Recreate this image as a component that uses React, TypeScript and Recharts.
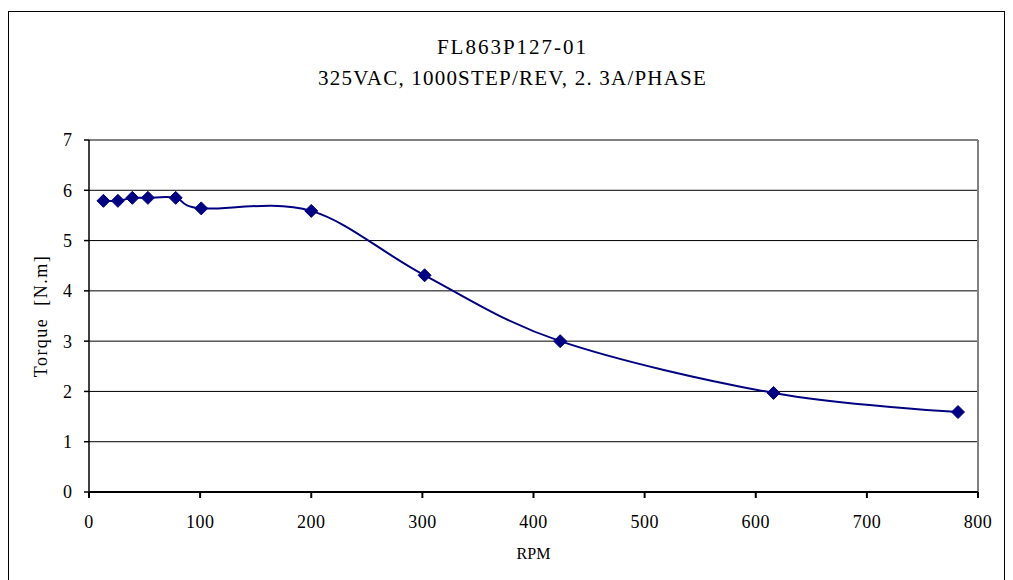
import React from 'react';
import { LineChart, Line, XAxis, YAxis, CartesianGrid, ReferenceLine } from 'recharts';

// speed points (RPM) and torque readings (N.m)
const rpm = [13, 26, 39, 53, 78, 101, 200, 302, 424, 616, 782];
const torque = [5.79, 5.79, 5.85, 5.85, 5.85, 5.64, 5.59, 4.31, 3.0, 1.97, 1.59];

const xTicks = [0, 100, 200, 300, 400, 500, 600, 700, 800];
const yTicks = [0, 1, 2, 3, 4, 5, 6, 7];

const titleLines = ['FL863P127-01', '325VAC, 1000STEP/REV, 2. 3A/PHASE'];

const data = rpm.map((r, i) => ({ rpm: r, torque: torque[i] }));

const font = "'Liberation Serif', 'DejaVu Serif', serif";
const navy = '#000080';

// excel-like smoothed line (cardinal spline, tension 0)
function smoothCurve(context: any) {
  const k = 1 / 6;
  let x0 = NaN, x1 = NaN, x2 = NaN, y0 = NaN, y1 = NaN, y2 = NaN;
  let pt = 0;
  let line: number = NaN;
  const seg = (x: number, y: number) => {
    context.bezierCurveTo(
      x1 + k * (x2 - x0), y1 + k * (y2 - y0),
      x2 + k * (x1 - x), y2 + k * (y1 - y),
      x2, y2
    );
  };
  return {
    areaStart() { line = 0; },
    areaEnd() { line = NaN; },
    lineStart() { x0 = x1 = x2 = y0 = y1 = y2 = NaN; pt = 0; },
    lineEnd() {
      if (pt === 2) context.lineTo(x2, y2);
      else if (pt === 3) seg(x1, y1);
      if (line || (line !== 0 && pt === 1)) context.closePath();
      line = 1 - line;
    },
    point(x: number, y: number) {
      x = +x; y = +y;
      switch (pt) {
        case 0:
          pt = 1;
          line ? context.lineTo(x, y) : context.moveTo(x, y);
          break;
        case 1:
          pt = 2;
          x1 = x; y1 = y;
          break;
        case 2:
          pt = 3;
          seg(x, y);
          break;
        default:
          seg(x, y);
      }
      x0 = x1; x1 = x2; x2 = x;
      y0 = y1; y1 = y2; y2 = y;
    },
  };
}

const Diamond = (props: any) => {
  const { cx, cy, index } = props;
  if (cx == null || cy == null) return null;
  const r = 6.5;
  return (
    <polygon
      key={`d-${index}`}
      points={`${cx},${cy - r} ${cx + r},${cy} ${cx},${cy + r} ${cx - r},${cy}`}
      fill={navy}
      stroke={navy}
    />
  );
};

export default function App() {
  return (
    <div
      style={{
        position: 'relative',
        marginTop: 3,
        width: 997,
        height: 572,
        border: '1px solid #000',
        borderBottom: 'none',
        boxSizing: 'border-box',
        fontFamily: font,
        overflow: 'hidden',
      }}
    >
      <div
        style={{
          position: 'absolute',
          top: 20,
          left: 6,
          width: 995,
          textAlign: 'center',
          fontSize: 21,
          lineHeight: '31px',
          color: '#000',
        }}
      >
        <div style={{ letterSpacing: 2 }}>{titleLines[0]}</div>
        <div style={{ letterSpacing: 1.2 }}>{titleLines[1]}</div>
      </div>
      <LineChart
        width={995}
        height={568}
        data={data}
        margin={{ top: 128, right: 26, left: 20, bottom: 48 }}
      >
        <CartesianGrid stroke="#000" vertical={false} strokeWidth={1} />
        <XAxis
          dataKey="rpm"
          type="number"
          domain={[0, 800]}
          ticks={xTicks}
          height={40}
          stroke="#000"
          strokeWidth={2}
          tickSize={6}
          tickMargin={17}
          tick={{ fill: '#000', fontSize: 18, fontFamily: font, letterSpacing: 0.5 }}
          label={{
            value: 'RPM',
            position: 'bottom',
            offset: 16,
            style: { fill: '#000', fontSize: 16, fontFamily: font },
          }}
        />
        <YAxis
          type="number"
          domain={[0, 7]}
          ticks={yTicks}
          width={60}
          stroke="#000"
          strokeWidth={1.5}
          tickSize={5}
          tickMargin={12}
          tick={{ fill: '#000', fontSize: 18, fontFamily: font }}
          label={{
            value: 'Torque\u00a0\u00a0[N.m]',
            angle: -90,
            position: 'insideLeft',
            offset: 12,
            style: { textAnchor: 'middle', fill: '#000', fontSize: 18, letterSpacing: 1.5, fontFamily: font },
          }}
        />
        <ReferenceLine y={7} stroke="#808080" strokeWidth={2} />
        <ReferenceLine x={800} stroke="#808080" strokeWidth={2} />
        <Line
          dataKey="torque"
          type={smoothCurve as any}
          stroke={navy}
          strokeWidth={2}
          dot={<Diamond />}
          activeDot={false}
          isAnimationActive={false}
        />
      </LineChart>
    </div>
  );
}
